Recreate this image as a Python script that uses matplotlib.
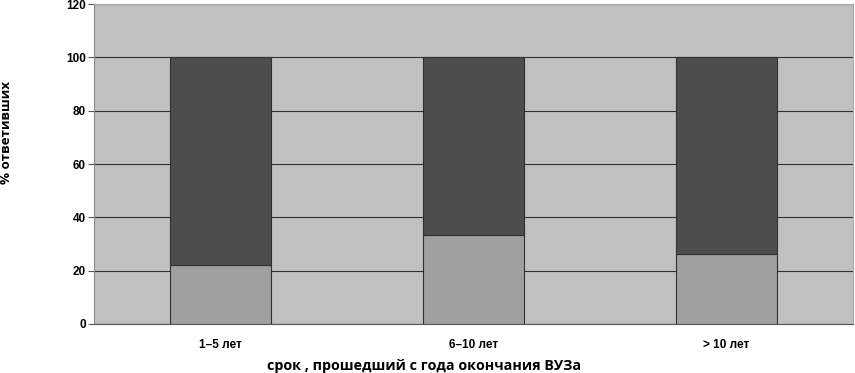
import numpy as np
import matplotlib.pyplot as plt

categories = ['1–5 лет', '6–10 лет', '> 10 лет']
lower_vals = [22.3, 33.2, 26.2]
upper_vals = [100 - v for v in lower_vals]
y_ticks = [0, 20, 40, 60, 80, 100, 120]

fig = plt.figure(figsize=(8.55, 3.73), dpi=100)
ax = fig.add_axes([0.110, 0.1314, 0.8877, 0.8576])
ax.set_facecolor('#c0c0c0')

x = np.arange(len(categories))
ax.bar(x, lower_vals, width=0.4, color='#a0a0a0', edgecolor='#303030', linewidth=0.8, zorder=3)
ax.bar(x, upper_vals, bottom=lower_vals, width=0.4, color='#4d4d4d', edgecolor='#303030',
       linewidth=0.8, zorder=3)

ax.set_xlim(-0.5, 2.5)
ax.set_ylim(0, 120)
ax.set_yticks(y_ticks)
ax.yaxis.grid(True, color='#303030', linewidth=0.8, zorder=1)
ax.set_axisbelow(True)

ax.set_xticks(x)
ax.set_xticklabels(categories, fontsize=8.5, fontweight='bold', family='Liberation Sans')
for lbl in ax.get_yticklabels():
    lbl.set_fontsize(8.5)
    lbl.set_fontweight('bold')
    lbl.set_family('Liberation Sans')
ax.tick_params(axis='x', length=0, pad=11)
ax.tick_params(axis='y', length=4, width=0.8, color='#555555', pad=2)

for side in ['top', 'right']:
    ax.spines[side].set_color('#a8a8a8')
ax.spines['left'].set_color('#888888')
ax.spines['bottom'].set_color('#555555')

fig.text(0.496, 0.019, 'срок , прошедший с года окончания ВУЗа', fontsize=10.3, fontweight='bold',
         family='Open Sans', ha='center', va='center')
fig.text(0.008, 0.645, '% ответивших', fontsize=9.6, fontweight='bold', family='Open Sans',
         rotation=90, ha='center', va='center')

fig.savefig('out.png', dpi=100)
